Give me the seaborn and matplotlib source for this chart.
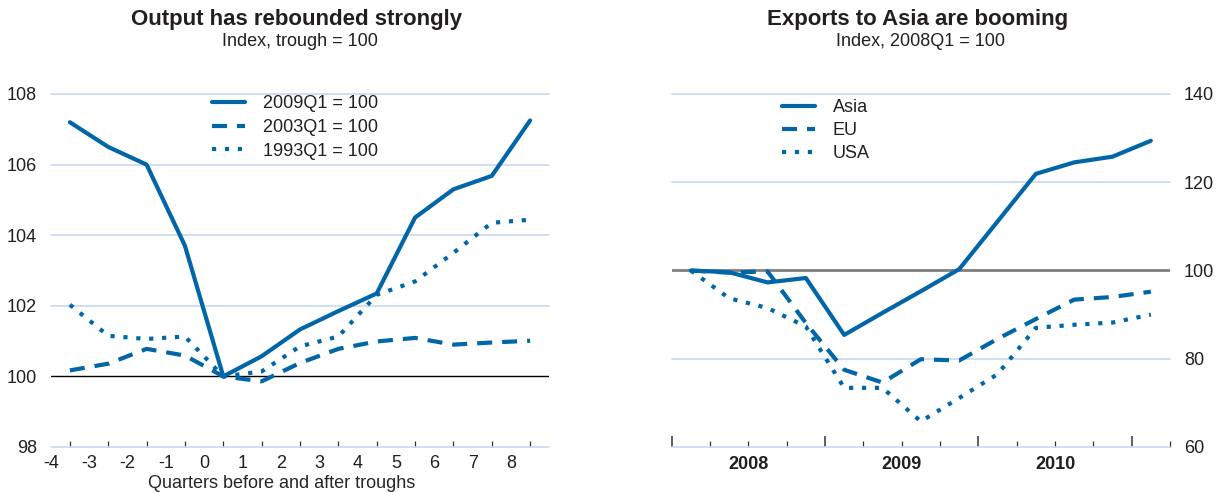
import numpy as np
import pandas as pd
import matplotlib
matplotlib.use("Agg")
import matplotlib.pyplot as plt
import seaborn as sns

# left panel: output around troughs (index, trough = 100)
quarters = [-4, -3, -2, -1, 0, 1, 2, 3, 4, 5, 6, 7, 8]
out_2009 = [107.2, 106.5, 106.0, 103.7, 100.0, 100.57, 101.33, 101.85, 102.35, 104.5, 105.3, 105.68, 107.25]
out_2003 = [100.17, 100.36, 100.78, 100.59, 100.0, 99.86, 100.38, 100.78, 100.99, 101.09, 100.9, 100.96, 101.01]
out_1993 = [102.03, 101.15, 101.06, 101.13, 100.0, 100.14, 100.85, 101.13, 102.31, 102.69, 103.5, 104.35, 104.44]
left_names = ["2009Q1 = 100", "2003Q1 = 100", "1993Q1 = 100"]

# right panel: exports by destination (index, 2008Q1 = 100)
periods = ["2008Q1", "2008Q2", "2008Q3", "2008Q4", "2009Q1", "2009Q2", "2009Q3",
           "2009Q4", "2010Q1", "2010Q2", "2010Q3", "2010Q4", "2011Q1"]
asia = [100.0, 99.6, 97.3, 98.3, 85.4, 90.4, 95.3, 100.3, 111.1, 121.9, 124.5, 125.8, 129.4]
eu = [100.0, 99.5, 99.8, 88.1, 77.5, 74.6, 79.9, 79.6, 84.5, 89.0, 93.4, 94.0, 95.2]
usa = [100.0, 93.7, 91.5, 87.3, 73.4, 73.4, 65.8, 71.1, 76.5, 87.0, 87.7, 88.2, 90.0]
right_names = ["Asia", "EU", "USA"]

blue = "#0066a8"
gridc = "#c9d8f0"
txt = "#231f20"

sns.set_style("white")
plt.rcParams["font.family"] = ["Liberation Sans", "DejaVu Sans"]
plt.rcParams["font.size"] = 13
plt.rcParams["text.color"] = txt
plt.rcParams["xtick.color"] = txt
plt.rcParams["ytick.color"] = txt

W, H = 1219, 492
fig = plt.figure(figsize=(W / 100, H / 100), dpi=100)
ax1 = fig.add_axes([50.7 / W, 1 - 447 / H, 498.6 / W, 353 / H])
ax2 = fig.add_axes([671.7 / W, 1 - 447 / H, 498.3 / W, 353 / H])

dashes = ["", (3.6, 2.4), (1, 2.1)]

# ---- left ----
left = pd.DataFrame({
    "q": quarters * 3,
    "v": out_2009 + out_2003 + out_1993,
    "s": [n for n in left_names for _ in quarters],
})
sns.lineplot(data=left, x="q", y="v", style="s", style_order=left_names,
             dashes=dict(zip(left_names, dashes)), color=blue, lw=3,
             ax=ax1, zorder=3)

ax1.set_xlim(-4.5, 8.5)
ax1.set_ylim(98, 108)
for y in [98, 102, 104, 106, 108]:
    ax1.axhline(y, color=gridc, lw=1.2, zorder=1, clip_on=False)
ax1.axhline(100, color="black", lw=1, zorder=2)
ax1.set_yticks([98, 100, 102, 104, 106, 108])
ax1.set_xticks(quarters)
ax1.set_xticklabels([])
ax1.set_xticks([q - 0.5 for q in quarters], minor=True)
ax1.set_xticklabels([str(q) for q in quarters], minor=True)
ax1.tick_params(axis="x", which="major", bottom=True, direction="in", length=4,
                width=0.9, color="#333333")
ax1.tick_params(axis="x", which="minor", bottom=True, length=0, pad=6, labelsize=13)
ax1.tick_params(axis="y", length=0, pad=10, labelsize=13)
ax1.set_xlabel("Quarters before and after troughs", fontsize=13, va="center")
ax1.xaxis.set_label_coords(0.464, (447 - 483) / 353)
ax1.set_ylabel("")
ax1.legend(loc="upper left", bbox_to_anchor=(212 / W, 1 - 95 / H),
           bbox_transform=fig.transFigure, frameon=False, fontsize=13,
           handlelength=1.85, handletextpad=0.95, labelspacing=0.38,
           borderpad=0, borderaxespad=0)

# ---- right ----
def qpos(p):
    return int(p[:4]) + (int(p[-1]) - 1) / 4 + 0.125

xr = [qpos(p) for p in periods]
right = pd.DataFrame({
    "x": xr * 3,
    "v": asia + eu + usa,
    "s": [n for n in right_names for _ in periods],
})
sns.lineplot(data=right, x="x", y="v", style="s", style_order=right_names,
             dashes=dict(zip(right_names, dashes)), color=blue, lw=3,
             ax=ax2, zorder=3)

ax2.set_xlim(2008, 2011.25)
ax2.set_ylim(60, 140)
for y in [60, 80, 120, 140]:
    ax2.axhline(y, color=gridc, lw=1.2, zorder=1, clip_on=False)
ax2.axhline(100, color="#808080", lw=2, zorder=2)
ax2.yaxis.tick_right()
ax2.set_yticks([60, 80, 100, 120, 140])
ax2.tick_params(axis="y", length=0, pad=10, labelsize=13)
ax2.set_xticks([2008, 2009, 2010, 2011])
ax2.set_xticklabels([])
ax2.set_xticks(np.arange(2008.25, 2011.3, 0.25), minor=True)
ax2.set_xticklabels([], minor=True)
ax2.tick_params(axis="x", which="major", bottom=True, direction="in", length=8,
                width=1.1, color="#333333")
ax2.tick_params(axis="x", which="minor", bottom=True, direction="in", length=4,
                width=0.9, color="#333333")
for yr in [2008, 2009, 2010]:
    ax2.text(yr + 0.5, -0.025, str(yr), transform=ax2.get_xaxis_transform(),
             ha="center", va="top", fontsize=13, fontweight="bold")
ax2.set_xlabel("")
ax2.set_ylabel("")
ax2.legend(loc="upper left", bbox_to_anchor=(782 / W, 1 - 99 / H),
           bbox_transform=fig.transFigure, frameon=False, fontsize=13,
           handlelength=1.85, handletextpad=0.95, labelspacing=0.33,
           borderpad=0, borderaxespad=0)

for ax in (ax1, ax2):
    sns.despine(ax=ax, left=True, right=True, top=True, bottom=True)
    ax.grid(False)

# titles
for ax, title, sub in [(ax1, "Output has rebounded strongly", "Index, trough = 100"),
                       (ax2, "Exports to Asia are booming", "Index, 2008Q1 = 100")]:
    b = ax.get_position()
    cx = (b.x0 + b.x1) / 2
    fig.text(cx - 0.003, 1 - 20 / H, title, ha="center", va="center",
             fontsize=16, fontweight="bold")
    fig.text(cx, 1 - 42 / H, sub, ha="center", va="center", fontsize=13)

fig.savefig("out.png", dpi=100)
